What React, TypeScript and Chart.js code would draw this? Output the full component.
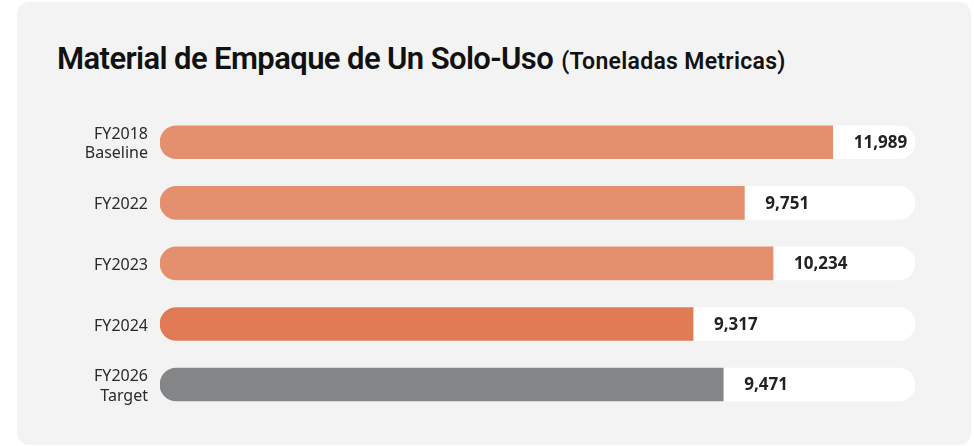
import React, { useEffect, useRef } from "react";
import { Chart, registerables } from "chart.js";

Chart.register(...registerables);

const categories: (string | string[])[] = [
  ["FY2018", "Baseline"],
  "FY2022",
  "FY2023",
  "FY2024",
  ["FY2026", "Target"],
];
// displayed values (metric tonnes)
const values = [11989, 9751, 10234, 9317, 9471];
// bar fill length, % of the track
const barFill = [89.1, 77.4, 81.2, 70.6, 74.6];
const trackFull = [100, 100, 100, 100, 100];
const barColors = ["#e48f6d", "#e48f6d", "#e48f6d", "#e07b55", "#848586"];

const TITLE = "Material de Empaque de Un Solo-Uso";
const SUBTITLE = "(Toneladas Metricas)";

const valueLabels = {
  id: "valueLabels",
  afterDatasetsDraw(chart: any) {
    const ctx = chart.ctx;
    const meta = chart.getDatasetMeta(0);
    ctx.save();
    ctx.font = "bold 17px 'Noto Sans'";
    ctx.fillStyle = "#222222";
    ctx.textAlign = "left";
    ctx.textBaseline = "middle";
    meta.data.forEach((el: any, i: number) => {
      ctx.fillText(values[i].toLocaleString("en-US"), el.x + 21, el.y + 1);
    });
    ctx.restore();
  },
};

export default function App() {
  const ref = useRef<HTMLCanvasElement | null>(null);
  useEffect(() => {
    if (!ref.current) return;
    const chart = new Chart(ref.current, {
      type: "bar",
      data: {
        labels: categories,
        datasets: [
          {
            data: barFill,
            backgroundColor: barColors,
            borderSkipped: false,
            borderRadius: { topLeft: 17, bottomLeft: 17, topRight: 0, bottomRight: 0 },
            barThickness: 33,
            grouped: false,
          } as any,
          {
            data: trackFull,
            backgroundColor: "#ffffff",
            borderSkipped: false,
            borderRadius: 17,
            barThickness: 33,
            grouped: false,
          } as any,
        ],
      },
      options: {
        indexAxis: "y",
        responsive: false,
        animation: false,
        devicePixelRatio: 1,
        layout: { padding: { left: 0, right: 59, top: 112, bottom: 30 } },
        plugins: { legend: { display: false }, tooltip: { enabled: false } },
        scales: {
          x: { display: false, min: 0, max: 100 },
          y: {
            grid: { display: false, drawTicks: false },
            border: { display: false },
            ticks: {
              color: "#2a2a2a",
              padding: 12,
              labelOffset: 2,
              font: { family: "'Noto Sans'", size: 16, lineHeight: 1.2 },
            },
            afterFit: (s: any) => {
              s.width = 160;
            },
          },
        },
      },
      plugins: [valueLabels],
    });
    return () => chart.destroy();
  }, []);

  return (
    <div style={{ position: "absolute", left: 0, top: 0, width: 974, height: 446, background: "#ffffff" }}>
      <div
        style={{
          position: "absolute",
          left: 17,
          top: 2,
          width: 954,
          height: 443,
          background: "#f3f3f3",
          borderRadius: 12,
        }}
      />
      <div
        style={{
          position: "absolute",
          left: 57,
          top: 43,
          whiteSpace: "nowrap",
          lineHeight: 1,
          color: "#111111",
          fontFamily: "Roboto, 'Noto Sans', sans-serif",
          display: "flex",
          alignItems: "baseline",
        }}
      >
        <span style={{ fontSize: 31, fontWeight: 600, letterSpacing: -0.6 }}>{TITLE}</span>
        <span style={{ fontSize: 23, fontWeight: 600, letterSpacing: 0.3, marginLeft: 8 }}>{SUBTITLE}</span>
      </div>
      <canvas
        ref={ref}
        width={974}
        height={446}
        style={{ position: "absolute", left: 0, top: 0, width: 974, height: 446 }}
      />
    </div>
  );
}
